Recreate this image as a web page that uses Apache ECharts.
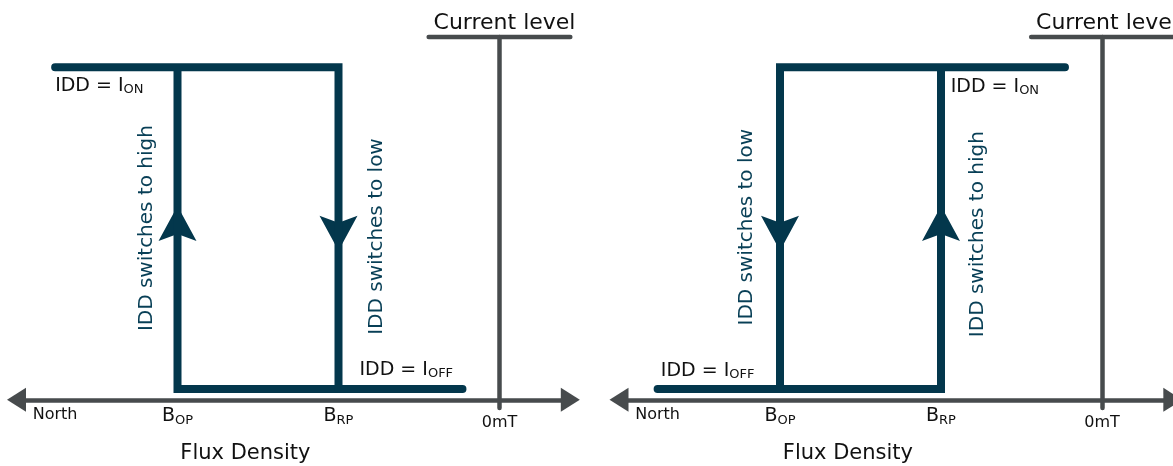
<!DOCTYPE html>
<html>
<head>
<meta charset="utf-8">
<script src="https://cdn.jsdelivr.net/npm/echarts@6/dist/echarts.min.js"></script>
<style>
  html, body { margin: 0; padding: 0; background: #fff; }
  #chart { width: 1173px; height: 466px; }
</style>
</head>
<body>
<div id="chart"></div>
<script>
// flux axis in steps: 0mT = 0, B_RP = -1, B_OP = -2, North to the left
const fluxTicks = [-2.76, -2, -1, 0];
const fluxTickLabels = ['North', 'B_OP', 'B_RP', '0mT'];

// current levels
const I_ON = 11;
const I_OFF = 0.36;
const levelTop = 12;
const levelBar = [[-0.44, levelTop], [0.44, levelTop]];

// left: switches high at B_OP, low at B_RP
const loop1 = [[-2.76, I_ON], [-1, I_ON], [-1, I_OFF], [-2, I_OFF], [-2, I_ON]];
const tail1 = [[-1, I_OFF], [-0.23, I_OFF]];
const upArrows1 = [[-2, 5.83]];
const downArrows1 = [[-1, 5.51]];
const notes1 = [
  { text: 'IDD = I_ON', at: [-2.76, 10.38] },
  { text: 'IDD = I_OFF', at: [-0.87, 0.99] },
  { text: 'IDD switches to high', at: [-2.19, 5.68], vertical: true },
  { text: 'IDD switches to low', at: [-0.76, 5.40], vertical: true }
];

// right: switches low at B_OP, high at B_RP
const loop2 = [[-0.23, I_ON], [-2, I_ON], [-2, I_OFF], [-1, I_OFF], [-1, I_ON]];
const tail2 = [[-2, I_OFF], [-2.76, I_OFF]];
const upArrows2 = [[-1, 5.83]];
const downArrows2 = [[-2, 5.51]];
const notes2 = [
  { text: 'IDD = I_ON', at: [-0.94, 10.34] },
  { text: 'IDD = I_OFF', at: [-2.74, 0.95] },
  { text: 'IDD switches to low', at: [-2.205, 5.71], vertical: true },
  { text: 'IDD switches to high', at: [-0.77, 5.48], vertical: true }
];

const FONT = 'DejaVu Sans';
const LOOP = '#03374c';
const NOTE = '#083f56';
const AXIS = '#474b4d';
const INK = '#111111';
const ARROW = 'path://M0,0 L19,35 L0,28 L-19,35 Z';

const unit = 161;
const xMin = -3, xMax = 0.44;
const yMin = -0.27;

const panels = [
  { zero: 499.5, loop: loop1, tail: tail1, up: upArrows1, down: downArrows1, notes: notes1 },
  { zero: 1102, loop: loop2, tail: tail2, up: upArrows2, down: downArrows2, notes: notes2 }
];

function tickLabel(v) {
  let i = 0;
  fluxTicks.forEach((t, k) => { if (Math.abs(t - v) < Math.abs(fluxTicks[i] - v)) i = k; });
  const [main, sub] = fluxTickLabels[i].split('_');
  if (sub) return `{b|${main}}{bs|${sub}}`;
  return fluxTicks[i] === 0 ? `{z|${main}}` : `{n|${main}}`;
}

function noteText(s) {
  const [main, sub] = s.split('_');
  return sub ? `{m|${main}}{s|${sub}}` : `{v|${main}}`;
}

const chart = echarts.init(document.getElementById('chart'));
const series = [];
panels.forEach((p, i) => {
  const lineBase = { type: 'line', xAxisIndex: i, yAxisIndex: i, symbol: 'none', clip: false, silent: true };
  series.push({ ...lineBase, data: levelBar, lineStyle: { color: AXIS, width: 4.5, cap: 'round' } });
  series.push({ ...lineBase, data: p.loop, lineStyle: { color: LOOP, width: 8, cap: 'round', join: 'miter' } });
  series.push({ ...lineBase, data: p.tail, lineStyle: { color: LOOP, width: 8, cap: 'round' } });
  series.push({ type: 'scatter', xAxisIndex: i, yAxisIndex: i, clip: false, silent: true,
    data: p.up, symbol: ARROW, symbolSize: [38, 35], itemStyle: { color: LOOP, opacity: 1 } });
  series.push({ type: 'scatter', xAxisIndex: i, yAxisIndex: i, clip: false, silent: true,
    data: p.down, symbol: ARROW, symbolSize: [38, 35], symbolRotate: 180, itemStyle: { color: LOOP, opacity: 1 } });
  series.push({
    type: 'scatter', xAxisIndex: i, yAxisIndex: i, clip: false, silent: true,
    symbolSize: 1, itemStyle: { color: 'transparent', opacity: 1 },
    data: p.notes.map(n => ({
      value: n.at,
      label: {
        show: true, position: 'inside', formatter: noteText(n.text), opacity: 1,
        rotate: n.vertical ? 90 : 0, align: n.vertical ? 'center' : 'left', verticalAlign: 'middle',
        rich: {
          m: { fontFamily: FONT, fontSize: 19, lineHeight: 20, verticalAlign: 'middle', color: INK },
          s: { fontFamily: FONT, fontSize: 13, lineHeight: 20, verticalAlign: 'bottom', color: INK },
          v: { fontFamily: FONT, fontSize: 20, color: NOTE }
        }
      }
    }))
  });
});

chart.setOption({
  animation: false,
  textStyle: { fontFamily: FONT },
  grid: panels.map(p => ({
    left: p.zero + xMin * unit, width: (xMax - xMin) * unit, top: 37, height: 371,
    containLabel: false, outerBoundsMode: 'none'
  })),
  xAxis: panels.map((p, i) => ({
    type: 'value', gridIndex: i, min: xMin, max: xMax,
    axisLine: { onZero: true, lineStyle: { color: AXIS, width: 4.5 }, symbol: ['triangle', 'triangle'], symbolSize: [24, 19] },
    axisTick: { show: false },
    splitLine: { show: false },
    axisLabel: {
      customValues: fluxTicks, margin: -2, color: INK, formatter: tickLabel,
      rich: {
        n: { fontFamily: FONT, fontSize: 16, lineHeight: 18, color: INK },
        b: { fontFamily: FONT, fontSize: 19, lineHeight: 21, verticalAlign: 'middle', color: INK },
        bs: { fontFamily: FONT, fontSize: 13, lineHeight: 21, verticalAlign: 'bottom', color: INK },
        z: { fontFamily: FONT, fontSize: 16, lineHeight: 34, color: INK }
      }
    },
    name: 'Flux Density', nameLocation: 'middle', nameGap: 35, nameMoveOverlap: false,
    nameTextStyle: { fontFamily: FONT, fontSize: 21, color: INK, padding: [0, 96, 0, 0] }
  })),
  yAxis: panels.map((p, i) => ({
    type: 'value', gridIndex: i, min: yMin, max: levelTop,
    axisLine: { show: true, onZero: true, lineStyle: { color: AXIS, width: 4.5 } },
    axisTick: { show: false },
    splitLine: { show: false },
    axisLabel: { show: false },
    name: 'Current level', nameLocation: 'end', nameGap: 3, nameMoveOverlap: false,
    nameTextStyle: { fontFamily: FONT, fontSize: 22, color: INK, padding: [0, 0, 0, 10] }
  })),
  series
});
</script>
</body>
</html>
